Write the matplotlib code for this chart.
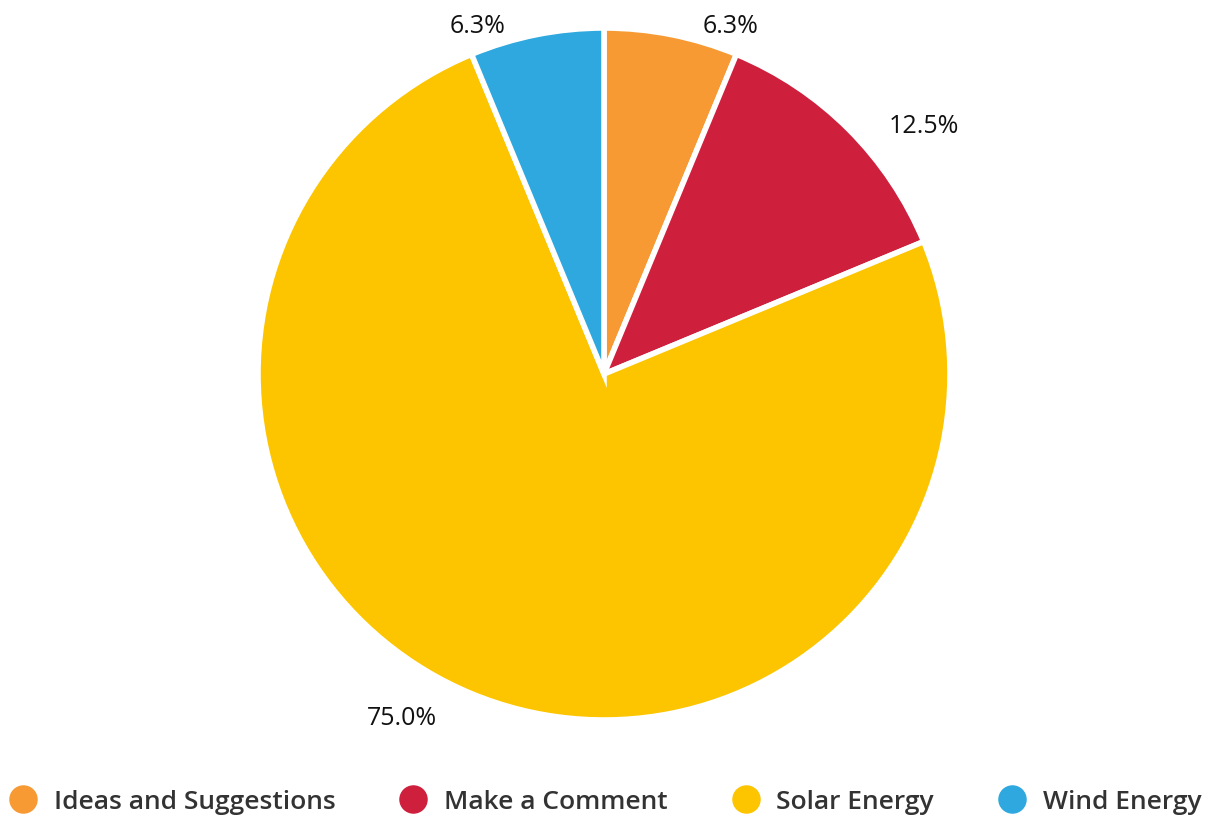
from decimal import Decimal, ROUND_HALF_UP

import numpy as np
import matplotlib.pyplot as plt
from matplotlib.lines import Line2D

plt.rcParams['font.family'] = ['Open Sans', 'DejaVu Sans']

categories = ['Ideas and Suggestions', 'Make a Comment', 'Solar Energy', 'Wind Energy']
shares = [6.25, 12.5, 75.0, 6.25]
colors = ['#F79A34', '#CE1F3D', '#FCC500', '#2EA8DF']

fig = plt.figure(figsize=(12.11, 8.20), dpi=100)
ax = fig.add_axes([258 / 1211, 99 / 820, 692 / 1211, 692 / 820])

wedges, _ = ax.pie(shares, colors=colors, startangle=90, counterclock=False,
                   radius=1.0, wedgeprops=dict(edgecolor='white', linewidth=4))
ax.set_xlim(-1, 1)
ax.set_ylim(-1, 1)
ax.axis('off')


def pct(v):
    # round half up, like the original chart (6.25 -> 6.3)
    return str(Decimal(str(v)).quantize(Decimal('0.1'), rounding=ROUND_HALF_UP)) + '%'


# percentage labels just outside each wedge, pushed sideways
for w, val in zip(wedges, shares):
    ang = np.deg2rad((w.theta1 + w.theta2) / 2)
    d = 1.05
    x, y = d * np.cos(ang), d * np.sin(ang) - 0.023
    if np.cos(ang) >= 0:
        ax.text(x + 0.08, y, pct(val), ha='left', va='center',
                fontsize=18, color='#111111', clip_on=False)
    else:
        ax.text(x - 0.08, y, pct(val), ha='right', va='center',
                fontsize=18, color='#111111', clip_on=False)

handles = [Line2D([0], [0], marker='o', linestyle='none', markersize=19.5,
                  markerfacecolor=c, markeredgecolor=c) for c in colors]
fig.legend(handles, categories, loc='center', bbox_to_anchor=(0.5, 17 / 820),
           ncol=4, frameon=False, handlelength=1.0,
           handletextpad=0.67, columnspacing=2.45, labelcolor='#333333',
           prop={'weight': 'semibold', 'size': 19})

fig.savefig('out.png', dpi=100)
